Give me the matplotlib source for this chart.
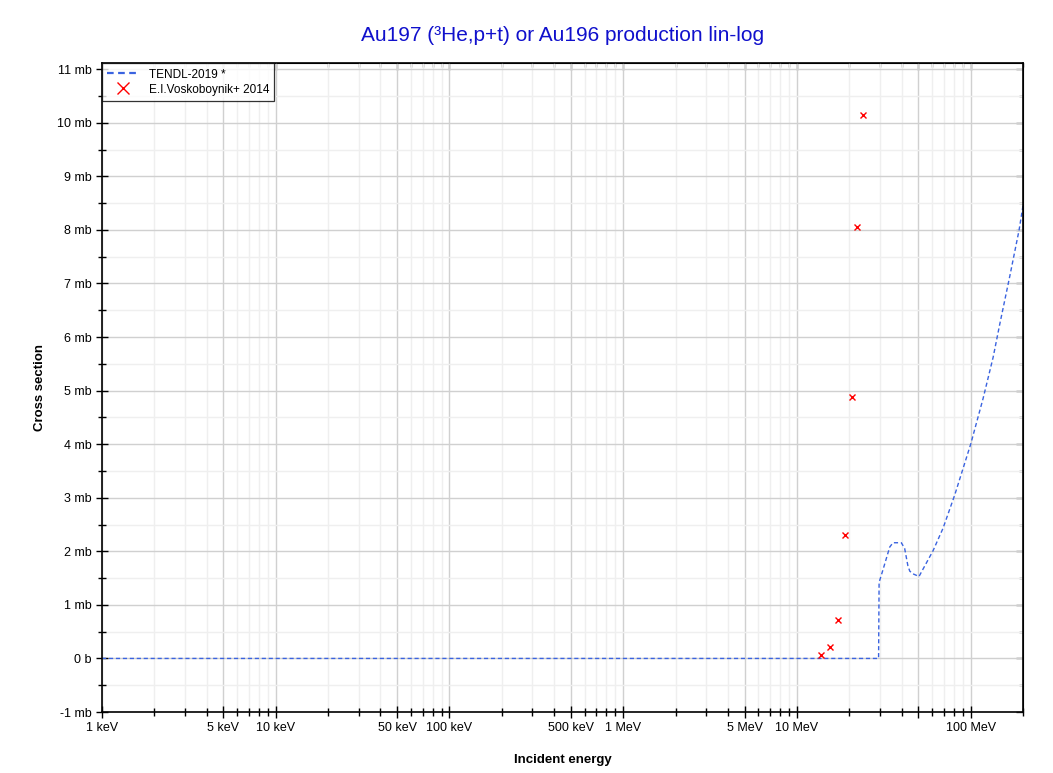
import numpy as np
import matplotlib
matplotlib.use("Agg")
import matplotlib.pyplot as plt
from matplotlib.ticker import FixedLocator, FuncFormatter, NullFormatter

plt.rcParams['font.family'] = ['Liberation Sans', 'DejaVu Sans']

# =========================
# DATA (energies in MeV, cross sections in mb)
# =========================

tendl_energy = [1e-3, 0.01, 0.1, 1.0, 10.0, 29.5, 29.7, 31.3, 34.2, 35.7, 39.9,
                41.7, 43.5, 44.6, 46.5, 50.4, 60.7, 69.3, 80.9, 100.0, 117.8,
                134.6, 147.0, 168.0, 190.0, 200.0]
tendl_xs = [0.0, 0.0, 0.0, 0.0, 0.0, 0.0, 1.42, 1.66, 2.08, 2.16, 2.16,
            2.05, 1.73, 1.63, 1.58, 1.53, 2.01, 2.43, 3.05, 4.0, 4.85,
            5.62, 6.24, 7.14, 8.0, 8.45]

exp_energy = [13.8, 15.4, 17.2, 18.9, 20.7, 22.2, 24.1]
exp_xs = [0.055, 0.21, 0.71, 2.31, 4.88, 8.06, 10.14]

major_x = [1e-3, 5e-3, 1e-2, 5e-2, 1e-1, 5e-1, 1.0, 5.0, 10.0, 50.0, 100.0]
major_x_labels = ['1 keV', '5 keV', '10 keV', '50 keV', '100 keV', '500 keV',
                  '1 MeV', '5 MeV', '10 MeV', '', '100 MeV']
y_ticks = list(range(-1, 12))

# =========================
# PLOT
# =========================

fig = plt.figure(figsize=(10.53, 7.73), dpi=100)
ax = fig.add_axes([0.0969, 0.0789, 0.8746, 0.8392])

ax.plot(tendl_energy, tendl_xs, color='#3a63e0', linestyle=(0, (3, 2)),
        linewidth=1.0, label='TENDL-2019 *')
ax.plot(exp_energy, exp_xs, linestyle='none', marker='x', color='red',
        markersize=5, markeredgewidth=1.0, label='E.I.Voskoboynik+ 2014')

ax.set_xscale('log')
ax.set_xlim(1e-3, 200)
ax.set_ylim(-1, 11.11)

minor_x = [m * d for d in [1e-3, 1e-2, 1e-1, 1, 10, 100]
           for m in [2, 3, 4, 6, 7, 8, 9] if m * d <= 200]
minor_y = list(np.arange(-0.5, 11.1, 1.0))

ax.xaxis.set_major_locator(FixedLocator(major_x))
ax.xaxis.set_major_formatter(FuncFormatter(
    lambda v, p: dict(zip(major_x, major_x_labels)).get(v, '')))
ax.xaxis.set_minor_locator(FixedLocator(minor_x))
ax.xaxis.set_minor_formatter(NullFormatter())

ax.set_yticks(y_ticks)
ax.set_yticklabels(['0 b' if t == 0 else '%d mb' % t for t in y_ticks])
ax.set_yticks(minor_y, minor=True)

ax.grid(True, which='major', color='#d0d0d0', linewidth=1.0)
ax.grid(True, which='minor', color='#efefef', linewidth=1.0)
ax.set_axisbelow(True)

ax.tick_params(which='both', direction='inout', labelsize=9, width=1.0)
ax.tick_params(which='major', length=8)
ax.tick_params(which='minor', length=6)
for s in ax.spines.values():
    s.set_linewidth(1.2)

# top and right ticks point inward
top = ax.secondary_xaxis('top')
top.xaxis.set_major_locator(FixedLocator(major_x))
top.xaxis.set_minor_locator(FixedLocator(minor_x))
top.xaxis.set_major_formatter(NullFormatter())
top.xaxis.set_minor_formatter(NullFormatter())
top.tick_params(which='both', direction='in', width=1.0, color='#444444')
top.tick_params(which='major', length=5)
top.tick_params(which='minor', length=3)

right = ax.secondary_yaxis('right')
right.set_yticks(y_ticks)
right.set_yticks(minor_y, minor=True)
right.yaxis.set_major_formatter(NullFormatter())
right.tick_params(which='both', direction='in', width=1.0, color='#444444')
right.tick_params(which='major', length=5)
right.tick_params(which='minor', length=3)

ax.set_xlabel('Incident energy', fontsize=9.5, fontweight='bold', labelpad=14)
ax.set_ylabel('Cross section', fontsize=9.5, fontweight='bold', labelpad=8)
ax.set_title('Au197 (³He,p+t) or Au196 production lin-log', color='#1010cc',
             fontsize=15, pad=16)

leg = ax.legend(loc='upper left', fontsize=8.5, frameon=True, fancybox=False,
                borderaxespad=0.0, handlelength=2.6, borderpad=0.45,
                labelspacing=0.25, markerscale=1.6, handletextpad=0.9)
leg.get_frame().set_edgecolor('black')
leg.get_frame().set_linewidth(0.9)
for h in leg.get_lines()[:1]:
    h.set_linewidth(1.6)

plt.savefig('out.png', dpi=100)
